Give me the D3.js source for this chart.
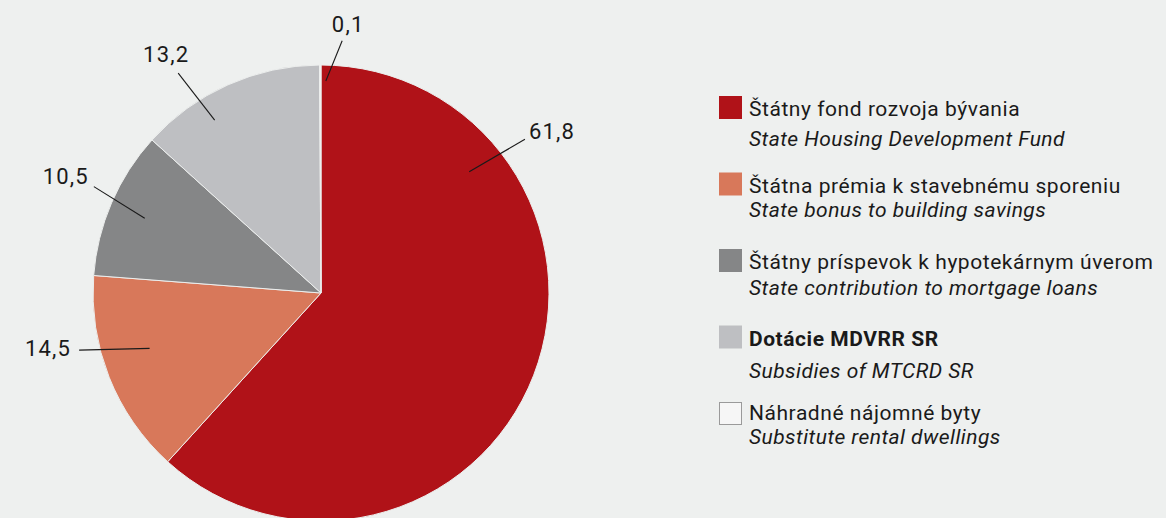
<!DOCTYPE html>
<html>
<head>
<meta charset="utf-8">
<script src="https://cdn.jsdelivr.net/npm/d3@7"></script>
<style>
  html, body { margin: 0; padding: 0; background: #eef0ef; }
  svg { display: block; font-family: Roboto, "Liberation Sans", sans-serif; }
</style>
</head>
<body>
<div id="chart"></div>
<script>
// data
const categories = [
    "Štátny fond rozvoja bývania",
    "Štátna prémia k stavebnému sporeniu",
    "Štátny príspevok k hypotekárnym úverom",
    "Dotácie MDVRR SR",
    "Náhradné nájomné byty"
];
const categoriesEn = [
    "State Housing Development Fund",
    "State bonus to building savings",
    "State contribution to mortgage loans",
    "Subsidies of MTCRD SR",
    "Substitute rental dwellings"
];
const shares = [61.8, 14.5, 10.5, 13.2, 0.1];
const valueLabels = ["61,8", "14,5", "10,5", "13,2", "0,1"];

// styles
const colors = ["#b01218", "#d8785a", "#858687", "#bebfc2", "#f6f6f6"];
const boldLegend = [false, false, false, true, false];
const firstY = [20, 20, 20, 20, 18];
const subGap = [30, 24, 26, 32, 24];

// leader lines: angle (deg, clockwise from top) and radius as share of pie radius
const leaders = [
    {a0: 50.7, r0: 0.84, a1: 53.0, r1: 1.12, anchor: "start", dx: 4, dy: 0},
    {a0: 252.1, r0: 0.79, a1: 256.7, r1: 1.09, anchor: "end", dx: -8, dy: 6},
    {a0: 293.0, r0: 0.84, a1: 295.1, r1: 1.10, anchor: "end", dx: -5, dy: -3},
    {a0: 328.4, r0: 0.89, a1: 327.0, r1: 1.15, anchor: "middle", dx: -12, dy: -11},
    {a0: 1.3, r0: 0.93, a1: 4.8, r1: 1.11, anchor: "middle", dx: 6, dy: -9}
];

const width = 1166, height = 518;
const cx = 321, cy = 293, radius = 228;

const svg = d3.select("#chart").append("svg")
    .attr("width", width)
    .attr("height", height);

svg.append("rect").attr("width", width).attr("height", height).attr("fill", "#eef0ef");

const rows = categories.map((c, i) => ({name: c, en: categoriesEn[i], value: shares[i], label: valueLabels[i], i: i}));

const pie = d3.pie().sort(null).value(d => d.value);
const arc = d3.arc().innerRadius(0).outerRadius(radius);

const g = svg.append("g").attr("transform", `translate(${cx},${cy})`);

g.selectAll("path.slice")
    .data(pie(rows))
    .join("path")
    .attr("class", "slice")
    .attr("d", arc)
    .attr("fill", d => colors[d.data.i])
    .attr("stroke", "#eceeed")
    .attr("stroke-width", 1);

// leader lines + labels
const rad = deg => deg * Math.PI / 180;
rows.forEach(d => {
    const L = leaders[d.i];
    const p0 = d3.pointRadial(rad(L.a0), L.r0 * radius);
    const p1 = d3.pointRadial(rad(L.a1), L.r1 * radius);
    g.append("line")
        .attr("x1", p0[0]).attr("y1", p0[1])
        .attr("x2", p1[0]).attr("y2", p1[1])
        .attr("stroke", "#1a1a1a")
        .attr("stroke-width", 1.1);
    g.append("text")
        .attr("x", p1[0] + L.dx)
        .attr("y", p1[1] + L.dy)
        .attr("text-anchor", L.anchor)
        .attr("font-size", 22)
        .attr("letter-spacing", 1.2)
        .attr("fill", "#1a1a1a")
        .text(d.label);
});

// legend
const legend = svg.append("g").attr("transform", "translate(719,96)");
const step = 76.5;

const item = legend.selectAll("g.item")
    .data(rows)
    .join("g")
    .attr("class", "item")
    .attr("transform", (d, i) => `translate(0,${i * step})`);

item.append("rect")
    .attr("x", d => d.i === 4 ? 0.5 : 0)
    .attr("y", d => d.i === 4 ? 0.5 : 0)
    .attr("width", d => d.i === 4 ? 22 : 23)
    .attr("height", d => d.i === 4 ? 22 : 23)
    .attr("fill", d => colors[d.i])
    .attr("stroke", d => d.i === 4 ? "#9a9a9a" : "none");

item.append("text")
    .attr("x", 30)
    .attr("y", d => firstY[d.i])
    .attr("font-size", 21)
    .attr("letter-spacing", 0.55)
    .attr("font-weight", d => boldLegend[d.i] ? "bold" : "normal")
    .attr("fill", "#1a1a1a")
    .text(d => d.name);

item.append("text")
    .attr("x", 30)
    .attr("y", d => firstY[d.i] + subGap[d.i])
    .attr("font-size", 21)
    .attr("letter-spacing", 0.45)
    .attr("font-style", "italic")
    .attr("fill", "#1a1a1a")
    .text(d => d.en);
</script>
</body>
</html>
